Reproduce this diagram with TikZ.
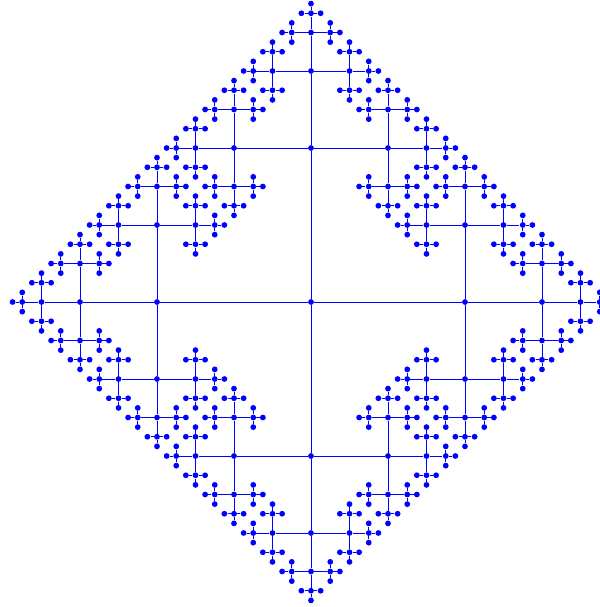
\documentclass[tikz,border=0pt]{standalone}
\usepackage{tikz}
\usetikzlibrary{calc}
\tikzset{
  edge/.style={draw=blue, line width=0.5pt},
  dot/.style={circle, fill=blue, inner sep=0pt, minimum size=3.3pt}
}
% arm directions
\def\angr{0}
\def\angu{90}
\def\angl{180}
\def\angd{270}
\newcommand\growarm[3]{%
  \pgfmathsetmacro\armlen{\armbase/2^#3}%
  \node[dot] (#1#2) at ($(#1)+(\csname ang#2\endcsname:\armlen)$) {};
  \draw[edge] (#1) -- (#1#2);
  \ifnum#3<4\relax
    \expandafter\spreadarms\expandafter{\the\numexpr#3+1\relax}{#1#2}{#2}%
  \fi}
\newcommand\spreadarms[3]{\csname kids#3\endcsname{#2}{#1}}
\newcommand\kidsr[2]{\growarm{#1}{r}{#2}\growarm{#1}{u}{#2}\growarm{#1}{d}{#2}}
\newcommand\kidsl[2]{\growarm{#1}{l}{#2}\growarm{#1}{u}{#2}\growarm{#1}{d}{#2}}
\newcommand\kidsu[2]{\growarm{#1}{u}{#2}\growarm{#1}{l}{#2}\growarm{#1}{r}{#2}}
\newcommand\kidsd[2]{\growarm{#1}{d}{#2}\growarm{#1}{l}{#2}\growarm{#1}{r}{#2}}
\def\armbase{3.08}
\begin{document}
\begin{tikzpicture}
  \useasboundingbox (-6.22,-6.10) rectangle (5.78,6.04);
  \node[dot] (c) at (0,0) {};
  \growarm{c}{r}{0}
  \growarm{c}{u}{0}
  \growarm{c}{l}{0}
  \growarm{c}{d}{0}
\end{tikzpicture}
\end{document}
